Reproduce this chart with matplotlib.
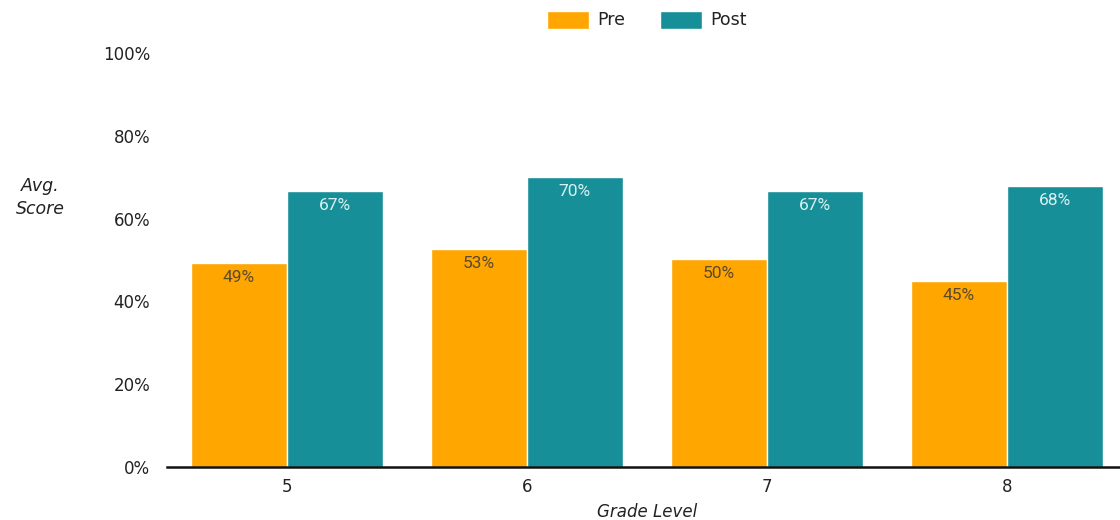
import numpy as np
import matplotlib.pyplot as plt
from matplotlib.ticker import FuncFormatter

# 데이터
grades = ["5", "6", "7", "8"]
pre_scores = [49.3, 52.7, 50.2, 44.9]
post_scores = [66.6, 70.0, 66.7, 67.9]

PRE_COLOR = "#FFA600"
POST_COLOR = "#168F98"
TICK_FONT = "DejaVu Sans"

fig = plt.figure(figsize=(11.2, 5.2), dpi=100)
# 축 오른쪽 끝은 그림 밖으로 약간 나감 (원본과 동일)
ax = fig.add_axes([0.149, 0.102, 0.857, 0.796])

x = np.arange(len(grades))
w = 0.4
bars_pre = ax.bar(x - w / 2, pre_scores, w, color=PRE_COLOR, edgecolor="white",
                  linewidth=1, label="Pre")
bars_post = ax.bar(x + w / 2, post_scores, w, color=POST_COLOR, edgecolor="white",
                   linewidth=1, label="Post")

# 막대 안쪽 위에 값 표시
for bars, col in [(bars_pre, "#5b4a2e"), (bars_post, "#d9f1f1")]:
    for b in bars:
        h = b.get_height()
        ax.annotate(f"{round(h)}%", (b.get_x() + b.get_width() / 2, h),
                    xytext=(0, -10.5), textcoords="offset points",
                    ha="center", va="center", fontsize=12.5,
                    family="Roboto", color=col)

ax.set_xlim(-0.5, len(grades) - 0.5)
ax.set_ylim(0, 100)
ax.set_yticks([0, 20, 40, 60, 80, 100])
ax.yaxis.set_major_formatter(FuncFormatter(lambda v, p: f"{v:.0f}%"))
ax.set_xticks(x)
ax.set_xticklabels(grades)

for lbl in ax.get_yticklabels() + ax.get_xticklabels():
    lbl.set_family(TICK_FONT)
    lbl.set_fontsize(12)
    lbl.set_color("#222222")

ax.tick_params(axis="y", length=0, pad=12)
ax.tick_params(axis="x", length=0, pad=8)

for s in ["top", "right", "left"]:
    ax.spines[s].set_visible(False)
ax.spines["bottom"].set_linewidth(1.8)
ax.spines["bottom"].set_color("#111111")

ax.set_xlabel("Grade Level", family=TICK_FONT, style="italic", fontsize=12,
              color="#222222", labelpad=5)
fig.text(0.036, 0.62, "Avg.\nScore", family=TICK_FONT, style="italic",
         fontsize=12.5, color="#222222", ha="center", va="center",
         linespacing=1.35)

leg = ax.legend(loc="upper center", bbox_to_anchor=(0.5, 1.14), ncol=2,
                frameon=False, handlelength=2.4, handleheight=1.2,
                columnspacing=2.0, handletextpad=0.5,
                prop={"family": TICK_FONT, "size": 12.5})
for t in leg.get_texts():
    t.set_color("#222222")

plt.savefig("out.png", dpi=100)
plt.close()
